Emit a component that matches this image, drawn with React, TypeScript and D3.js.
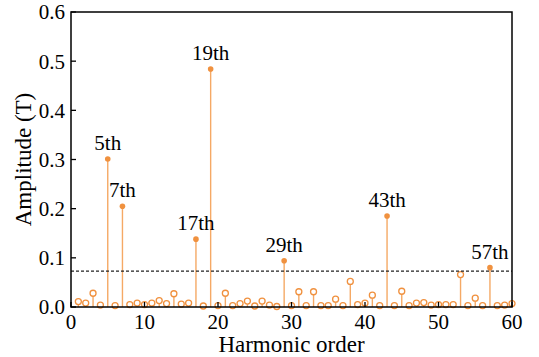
import React from 'react';
import * as d3 from 'd3';

// harmonic orders and measured amplitudes (T)
const orders: number[] = d3.range(1, 61);
const amplitudes: number[] = [
  0.011, 0.008, 0.028, 0.004, 0.301, 0.003, 0.205, 0.005, 0.008, 0.005,
  0.008, 0.013, 0.007, 0.027, 0.006, 0.008, 0.138, 0.002, 0.484, 0.003,
  0.028, 0.003, 0.007, 0.012, 0.002, 0.012, 0.004, 0.001, 0.094, 0.003,
  0.031, 0.003, 0.031, 0.003, 0.003, 0.016, 0.003, 0.052, 0.005, 0.008,
  0.024, 0.003, 0.185, 0.003, 0.032, 0.003, 0.008, 0.009, 0.004, 0.005,
  0.005, 0.005, 0.066, 0.003, 0.018, 0.003, 0.080, 0.003, 0.004, 0.007,
];
const threshold = 0.073;
const xTicks = [0, 10, 20, 30, 40, 50, 60];
const yTicks = [0, 0.1, 0.2, 0.3, 0.4, 0.5, 0.6];

const W = 539;
const H = 357;
const margin = { left: 71, right: 27, top: 12, bottom: 50 };
const FONT = 'Liberation Serif, Times New Roman, serif';
const STEM = '#f5a965';
const MARK = '#f0913f';

const App: React.FC = () => {
  const x = d3.scaleLinear().domain([0, 60]).range([margin.left, W - margin.right]);
  const y = d3.scaleLinear().domain([0, 0.6]).range([H - margin.bottom, margin.top]);

  const points = orders.map((n, i) => ({ n, v: amplitudes[i] }));
  const big = points.filter((p) => p.v > threshold);
  const small = points.filter((p) => p.v <= threshold);

  return (
    <svg
      width={W}
      height={H}
      style={{ position: 'absolute', left: 0, top: 0, background: '#fff', fontFamily: FONT }}
    >
      {/* stems */}
      {points.map((p) => (
        <line key={'s' + p.n} x1={x(p.n)} x2={x(p.n)} y1={y(0)} y2={y(p.v)} stroke={STEM} strokeWidth={1.4} />
      ))}
      {/* open markers below threshold */}
      {small.map((p) => (
        <circle key={'o' + p.n} cx={x(p.n)} cy={y(p.v)} r={3} fill="#fff" stroke={MARK} strokeWidth={1.3} />
      ))}
      {/* filled markers above threshold */}
      {big.map((p) => (
        <circle key={'f' + p.n} cx={x(p.n)} cy={y(p.v)} r={2.8} fill={MARK} />
      ))}
      {/* threshold line */}
      <line x1={x(0)} x2={x(60)} y1={y(threshold)} y2={y(threshold)} stroke="#222" strokeWidth={1.3} strokeDasharray="3,2" />
      {/* labels */}
      {big.map((p) => (
        <text key={'l' + p.n} x={x(p.n)} y={y(p.v) - 9} textAnchor="middle" fontSize={21} fill="#000">
          {p.n + 'th'}
        </text>
      ))}
      {/* frame */}
      <rect x={x(0)} y={y(0.6)} width={x(60) - x(0)} height={y(0) - y(0.6)} fill="none" stroke="#000" strokeWidth={1.5} />
      {/* y ticks */}
      {yTicks.map((t) => (
        <g key={'yt' + t}>
          <line x1={x(0)} x2={x(0) + 5} y1={y(t)} y2={y(t)} stroke="#000" strokeWidth={1.3} />
          <text x={x(0) - 6} y={y(t)} dy="0.35em" textAnchor="end" fontSize={21}>
            {d3.format('.1f')(t)}
          </text>
        </g>
      ))}
      {/* x ticks */}
      {xTicks.map((t) => (
        <g key={'xt' + t}>
          <line x1={x(t)} x2={x(t)} y1={y(0)} y2={y(0) - 5} stroke="#000" strokeWidth={1.3} />
          <text x={x(t)} y={329} textAnchor="middle" fontSize={21}>
            {t}
          </text>
        </g>
      ))}
      <text x={(x(0) + x(60)) / 2} y={352} textAnchor="middle" fontSize={23}>
        Harmonic order
      </text>
      <text transform={`translate(31, ${(y(0) + y(0.6)) / 2}) rotate(-90)`} textAnchor="middle" fontSize={23}>
        Amplitude (T)
      </text>
    </svg>
  );
};

export default App;
